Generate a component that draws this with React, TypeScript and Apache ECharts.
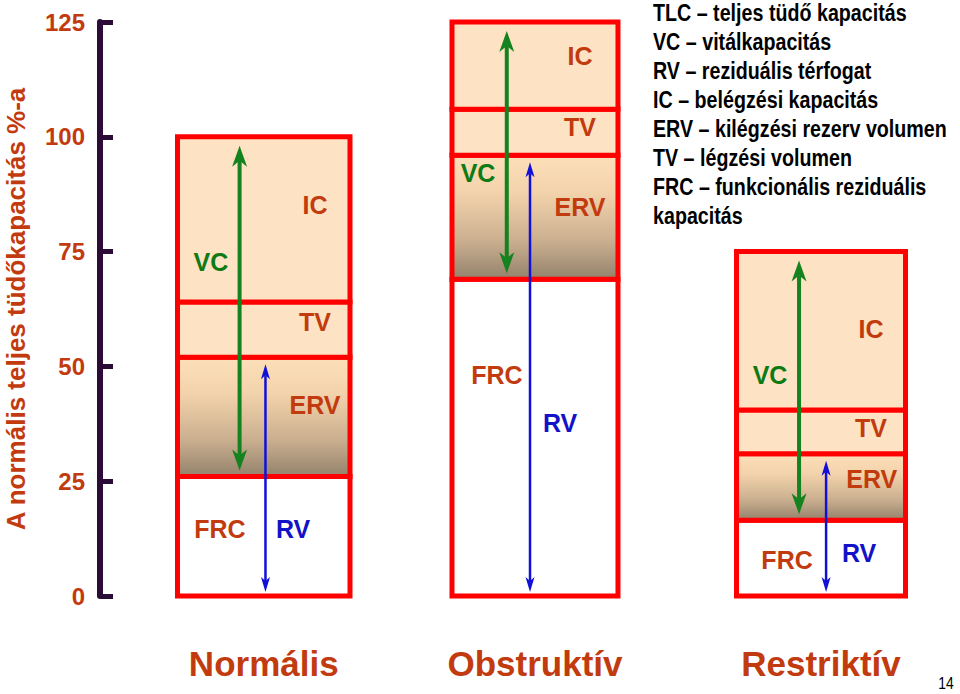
import { useEffect, useRef } from "react";
import * as echarts from "echarts";

// ---------- data ----------
const categories = ["Normális", "Obstruktív", "Restriktív"];
// lung volume segments, % of normal total lung capacity (bottom to top)
const rvValues = [26, 69, 16.5];
const ervValues = [26, 27, 14.5];
const tvValues = [12, 10, 9.5];
const icValues = [36, 19, 34.5];
const yTickLabels = [0, 25, 50, 75, 100, 125];
const yAxisTitle = "A normális teljes tüdőkapacitás %-a";
const legendLines = [
  "TLC – teljes tüdő kapacitás",
  "VC – vitálkapacitás",
  "RV – reziduális térfogat",
  "IC – belégzési kapacitás",
  "ERV – kilégzési rezerv volumen",
  "TV – légzési volumen",
  "FRC – funkcionális reziduális",
  "kapacitás",
];
const pageNumber = "14";

// ---------- layout ----------
const columnPos = [19.04, 50.58, 83.84]; // place of each column on a hidden 0–100 x axis
const columnWidth = [20.06, 19.3, 19.65];
const vcArrowFrac = [0.36, 0.33, 0.37];
const rvArrowFrac = [0.51, 0.47, 0.53];
// label anchor: [fraction of column width, value on y axis]
const labelLayout: Record<string, [number, number]>[] = [
  { VC: [0.194, 72.8], IC: [0.797, 85.2], TV: [0.797, 59.7], ERV: [0.797, 41.6], FRC: [0.246, 14.6], RV: [0.67, 14.6] },
  { VC: [0.157, 92.2], IC: [0.771, 117.5], TV: [0.771, 102.2], ERV: [0.771, 84.8], FRC: [0.271, 48.2], RV: [0.651, 37.7] },
  { VC: [0.198, 48.2], IC: [0.796, 58.2], TV: [0.796, 36.6], ERV: [0.8, 25.5], FRC: [0.299, 7.8], RV: [0.725, 9.4] },
];

const SANS = '"Liberation Sans", Arial, sans-serif';
const NARROW_SCALE = 0.82; // Arial Narrow look, made from Liberation Sans
const LABEL_RED = "#c23b0e";
const GREEN = "#14821e";
const BLUE = "#1010d8";
const PEACH = "#fde3c3";
const BORDER = "#ff0000";

function arrow(x: number, yTop: number, yBottom: number, color: string, lw: number, headLen: number, halfW: number, notch: number) {
  return [
    { type: "line", shape: { x1: x, y1: yTop + notch, x2: x, y2: yBottom - notch }, style: { stroke: color, lineWidth: lw } },
    {
      type: "polygon",
      shape: { points: [[x, yTop], [x - halfW, yTop + headLen], [x, yTop + notch], [x + halfW, yTop + headLen]] },
      style: { fill: color },
    },
    {
      type: "polygon",
      shape: { points: [[x, yBottom], [x - halfW, yBottom - headLen], [x, yBottom - notch], [x + halfW, yBottom - headLen]] },
      style: { fill: color },
    },
  ];
}

export default function App() {
  const ref = useRef<HTMLDivElement>(null);
  useEffect(() => {
    if (!ref.current) return;
    const chart = echarts.init(ref.current, undefined, { renderer: "svg" });

    const ervGradient = new echarts.graphic.LinearGradient(0, 0, 0, 1, [
      { offset: 0, color: "#fcdfb9" },
      { offset: 0.3, color: "#f3d3ac" },
      { offset: 0.7, color: "#c9ae8e" },
      { offset: 1, color: "#93826c" },
    ]);

    const renderItem = (params: any, api: any) => {
      const i = params.dataIndex;
      const xc = api.value(0);
      const rv = api.value(1);
      const erv = api.value(2);
      const tv = api.value(3);
      const ic = api.value(4);
      const w = api.size([columnWidth[i], 0])[0];
      const cx = api.coord([xc, 0])[0];
      const x0 = cx - w / 2;
      const Y = (v: number) => api.coord([xc, v])[1];
      const b = [0, rv, rv + erv, rv + erv + tv, rv + erv + tv + ic];
      const fills = ["#ffffff", ervGradient, PEACH, PEACH];
      const children: any[] = [];
      for (let s = 0; s < 4; s++) {
        const yTop = Y(b[s + 1]);
        const yBot = Y(b[s]);
        children.push({
          type: "rect",
          shape: { x: x0, y: yTop, width: w, height: yBot - yTop },
          style: { fill: fills[s], stroke: BORDER, lineWidth: 5 },
        });
      }
      // VC arrow: from top of RV to top of column
      const vx = x0 + w * vcArrowFrac[i];
      children.push(...arrow(vx, Y(b[4]) + 9, Y(b[1]) - 6, GREEN, 4, 21, 7.5, 15));
      // RV (FRC) arrow: from bottom to top of ERV
      const rx = x0 + w * rvArrowFrac[i];
      children.push(...arrow(rx, Y(b[2]) + 7, Y(0) - 4, BLUE, 2.5, 15, 4.5, 11));

      const lay = labelLayout[i];
      Object.keys(lay).forEach((k) => {
        const [fx, vy] = lay[k];
        children.push({
          type: "text",
          x: x0 + w * fx,
          y: Y(vy),
          style: {
            text: k,
            fill: k === "VC" ? "#0e7a14" : k === "RV" ? "#1212c8" : LABEL_RED,
            fontSize: 25,
            fontWeight: "bold",
            fontFamily: SANS,
            align: "center",
            verticalAlign: "middle",
          },
        });
      });
      children.push({
        type: "text",
        x: cx,
        y: Y(0) + 67,
        style: {
          text: categories[i],
          fill: LABEL_RED,
          fontSize: 35,
          fontWeight: "bold",
          fontFamily: SANS,
          align: "center",
          verticalAlign: "middle",
        },
      });
      return { type: "group", children };
    };

    const legendGraphics = legendLines.map((line, k) => ({
      type: "text",
      x: 653,
      y: 13 + 29 * k,
      scaleX: NARROW_SCALE,
      style: {
        text: line,
        fill: "#000000",
        fontSize: 24,
        fontWeight: "bold",
        fontFamily: SANS,
        align: "left",
        verticalAlign: "middle",
      },
    }));

    const option: any = {
      animation: false,
      backgroundColor: "#ffffff",
      grid: { left: 100, right: 0, top: 22, bottom: 98, outerBoundsMode: "none" },
      xAxis: { type: "value", min: 0, max: 100, show: false },
      yAxis: {
        type: "value",
        min: yTickLabels[0],
        max: yTickLabels[yTickLabels.length - 1],
        interval: yTickLabels[1] - yTickLabels[0],
        name: yAxisTitle,
        nameLocation: "middle",
        nameRotate: 90,
        nameGap: 71,
        nameTextStyle: { color: LABEL_RED, fontSize: 26, fontWeight: "bold", fontFamily: SANS },
        axisLine: { show: true, lineStyle: { color: "#2c0b38", width: 6 } },
        axisTick: { show: true, inside: true, length: 13, lineStyle: { color: "#2c0b38", width: 5 } },
        axisLabel: { color: LABEL_RED, fontSize: 24, fontWeight: "bold", fontFamily: SANS, margin: 15 },
        splitLine: { show: false },
      },
      graphic: [
        ...legendGraphics,
        {
          type: "text",
          x: 946,
          y: 683,
          scaleX: NARROW_SCALE,
          style: {
            text: pageNumber,
            fill: "#000000",
            fontSize: 17,
            fontFamily: SANS,
            align: "center",
            verticalAlign: "middle",
          },
        },
      ],
      series: [
        {
          type: "custom",
          clip: false,
          renderItem,
          data: categories.map((_, i) => [columnPos[i], rvValues[i], ervValues[i], tvValues[i], icValues[i]]),
          encode: { x: 0, y: 1 },
        },
      ],
    };
    chart.setOption(option);
    return () => chart.dispose();
  }, []);
  return (
    <div
      ref={ref}
      style={{ position: "fixed", left: 0, top: 0, width: 960, height: 694, background: "#fff" }}
    />
  );
}
